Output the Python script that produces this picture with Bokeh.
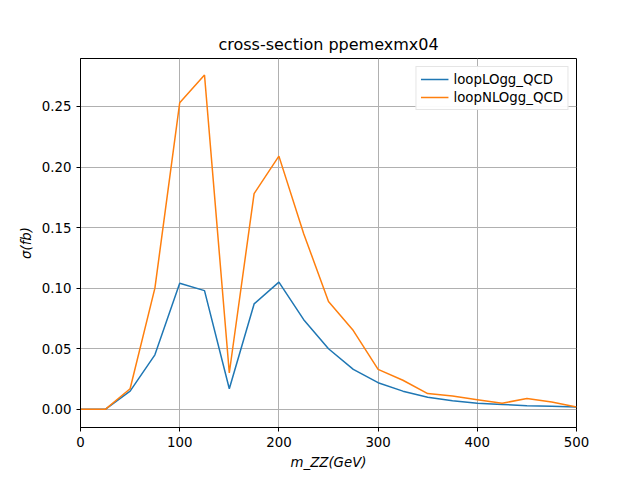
from bokeh.plotting import figure
from bokeh.models import Range1d, Legend, LegendItem, FixedTicker, CustomJSTickFormatter
from bokeh.embed import file_html
from bokeh.resources import INLINE

mzz = [0, 25, 50, 75, 100, 125, 150, 175, 200, 225, 250, 275, 300, 325, 350, 375, 400, 425, 450, 475, 500]
lo = [0, 0, 0.015, 0.045, 0.104, 0.098, 0.017, 0.087, 0.105, 0.074, 0.050, 0.033, 0.022, 0.015, 0.010, 0.007, 0.005, 0.004, 0.003, 0.0025, 0.002]
nlo = [0, 0, 0.017, 0.100, 0.253, 0.276, 0.030, 0.178, 0.209, 0.145, 0.089, 0.065, 0.033, 0.024, 0.013, 0.011, 0.008, 0.005, 0.009, 0.006, 0.002]

p = figure(width=624, height=472, output_backend="svg", toolbar_location=None,
           x_range=Range1d(0, 500), y_range=Range1d(-0.015, 0.2896),
           title="cross-section ppemexmx04",
           min_border_left=80, min_border_right=48, min_border_top=58, min_border_bottom=45)
p.title.align = "center"
p.title.text_font = "DejaVu Sans"
p.title.text_font_size = "12pt"
p.title.text_font_style = "normal"
p.title.text_color = "black"
r1 = p.line(mzz, lo, line_color="#1f77b4", line_width=1.5)
r2 = p.line(mzz, nlo, line_color="#ff7f0e", line_width=1.5)
p.xaxis.ticker = FixedTicker(ticks=[0, 100, 200, 300, 400, 500])
p.yaxis.ticker = FixedTicker(ticks=[0, 0.05, 0.1, 0.15, 0.2, 0.25])
p.yaxis.formatter = CustomJSTickFormatter(code="return tick.toFixed(2)")
for ax in (p.xaxis, p.yaxis):
    ax.major_label_text_font = "DejaVu Sans"
    ax.major_label_text_font_size = "10pt"
    ax.major_label_text_color = "black"
    ax.axis_label_text_font = "DejaVu Sans"
    ax.axis_label_text_font_size = "10pt"
    ax.axis_label_text_font_style = "italic"
    ax.axis_label_text_color = "black"
    ax.minor_tick_line_color = None
    ax.major_tick_in = 0
    ax.major_tick_out = 4
    ax.axis_line_color = "black"
p.xaxis.axis_label = "m_ZZ(GeV)"
p.yaxis.axis_label = "σ(fb)"
p.grid.grid_line_color = "#b0b0b0"
p.grid.grid_line_width = 1
p.outline_line_color = "black"
leg = Legend(items=[LegendItem(label="loopLOgg_QCD", renderers=[r1]),
                    LegendItem(label="loopNLOgg_QCD", renderers=[r2])],
             location="top_right", label_text_font="DejaVu Sans", label_text_font_size="10pt",
             label_text_color="black",
             border_line_color="#cccccc", padding=4, spacing=2, margin=8,
             glyph_width=28, label_height=16, glyph_height=16)
p.add_layout(leg)
open("out.html", "w").write(file_html(p, INLINE))
